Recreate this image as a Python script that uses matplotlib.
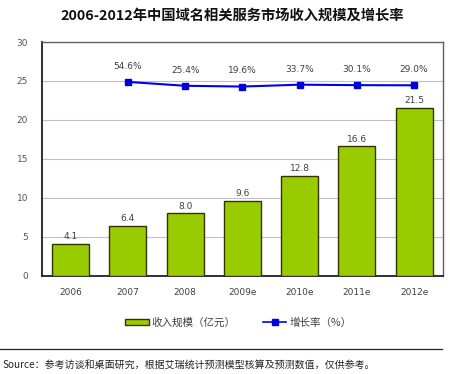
import matplotlib
matplotlib.use("Agg")
import matplotlib.pyplot as plt
from matplotlib.lines import Line2D
from matplotlib.patches import Rectangle

plt.rcParams['font.family'] = ['Noto Sans CJK SC', 'DejaVu Sans']

# data
years = ['2006', '2007', '2008', '2009e', '2010e', '2011e', '2012e']
revenue = [4.1, 6.4, 8.0, 9.6, 12.8, 16.6, 21.5]
growth_years = ['2007', '2008', '2009e', '2010e', '2011e', '2012e']
growth = [54.6, 25.4, 19.6, 33.7, 30.1, 29.0]
y_ticks = [0, 5, 10, 15, 20, 25, 30]

title = '2006-2012年中国域名相关服务市场收入规模及增长率'
legend_bar = '收入规模（亿元）'
legend_line = '增长率（%）'
source = 'Source：参考访谈和桌面研究，根据艾瑞统计预测模型核算及预测数值，仅供参考。'

BAR_GREEN = '#99cc00'
BAR_EDGE = '#333300'
LINE_BLUE = '#0000ee'
TEXT = '#404040'

fig = plt.figure(figsize=(4.5, 3.74), dpi=100)
fig.patch.set_facecolor('white')
ax = fig.add_axes([0.0933, 0.2628, 0.8907, 0.6249])

x = list(range(len(years)))
ax.bar(x, revenue, width=0.645, color=BAR_GREEN, edgecolor=BAR_EDGE,
       linewidth=1.0, zorder=3)
for xi, v in zip(x, revenue):
    ax.annotate(f'{v:.1f}', (xi, v), xytext=(0, 2), textcoords='offset points',
                ha='center', va='bottom', fontsize=6.5, color=TEXT,
                family='DejaVu Sans')

ax.set_xlim(-0.5, len(years) - 0.5)
ax.set_ylim(0, 30)
ax.set_yticks(y_ticks)
ax.set_yticklabels([str(t) for t in y_ticks], fontsize=6.5, color='#555555',
                   family='DejaVu Sans')
ax.set_xticks(x)
ax.set_xticklabels(years, fontsize=6.5, color=TEXT, family='DejaVu Sans')
ax.tick_params(axis='both', length=0)
ax.tick_params(axis='y', pad=10)
ax.tick_params(axis='x', pad=9)
ax.yaxis.grid(True, color='#c0c0c0', linewidth=0.8, zorder=0)
ax.set_axisbelow(True)
for side in ['top', 'right']:
    ax.spines[side].set_color('#606060')
    ax.spines[side].set_linewidth(1.0)
for side in ['left', 'bottom']:
    ax.spines[side].set_color('#202020')
    ax.spines[side].set_linewidth(1.3)

# growth rate on a hidden secondary scale
ax2 = ax.twinx()
ax2.set_ylim(-1400, 354)
gx = [years.index(g) for g in growth_years]
ax2.plot(gx, growth, color=LINE_BLUE, linewidth=1.5, marker='s',
         markersize=5, markerfacecolor='#0000dd', markeredgecolor='#0000dd',
         zorder=4)
for xi, g in zip(gx, growth):
    ax2.annotate(f'{g:.1f}%', (xi, g), xytext=(0, 8), textcoords='offset points',
                 ha='center', va='bottom', fontsize=6.5, color=TEXT,
                 family='DejaVu Sans')
ax2.set_yticks([])
for s in ax2.spines.values():
    s.set_visible(False)

fig.text(0.516, 0.958, title, ha='center', va='center', fontsize=10.3,
         fontweight='bold', color='#111111')

# legend
handles = [Rectangle((0, 0), 1, 1, facecolor=BAR_GREEN, edgecolor=BAR_EDGE,
                     linewidth=1.0),
           Line2D([0], [0], color=LINE_BLUE, linewidth=1.2, marker='s',
                  markersize=4, markerfacecolor='#0000dd',
                  markeredgecolor='#0000dd')]
fig.legend(handles, [legend_bar, legend_line], loc='center',
           bbox_to_anchor=(0.53, 0.138), ncol=2, frameon=False,
           fontsize=7.6, handlelength=2.2, handleheight=0.45,
           handletextpad=0.3, columnspacing=2.6, labelcolor=TEXT)

fig.add_artist(Line2D([0.0, 0.982], [0.067, 0.067], color='#222222',
                      linewidth=0.9))
fig.text(0.005, 0.025, source, ha='left', va='center', fontsize=7.2,
         color='#222222')

fig.savefig('out.png', dpi=100, facecolor='white')
